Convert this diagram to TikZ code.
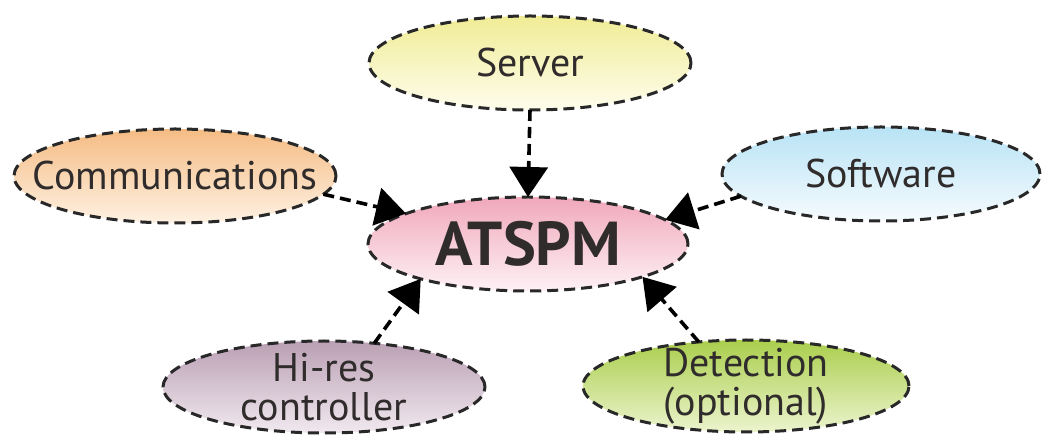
\documentclass[tikz,border=0pt]{standalone}
\usepackage{fontspec}
\setmainfont{PT Sans}
\usetikzlibrary{shapes.geometric,arrows.meta}

\definecolor{ink}{RGB}{48,44,44}
\definecolor{rim}{RGB}{40,40,40}
\definecolor{serverTop}{RGB}{240,236,150}
\definecolor{serverBot}{RGB}{254,253,236}
\definecolor{commTop}{RGB}{245,188,132}
\definecolor{commBot}{RGB}{254,241,226}
\definecolor{softTop}{RGB}{184,227,245}
\definecolor{softBot}{RGB}{246,251,254}
\definecolor{coreTop}{RGB}{240,168,188}
\definecolor{coreBot}{RGB}{254,241,245}
\definecolor{hiresTop}{RGB}{186,160,180}
\definecolor{hiresBot}{RGB}{241,233,239}
\definecolor{detTop}{RGB}{170,206,76}
\definecolor{detBot}{RGB}{236,244,206}

\tikzset{
  % negative inner sep keeps the ellipse at its minimum size
  bubble/.style={ellipse, draw=rim, line width=3pt,
    dash pattern=on 11pt off 6pt, inner sep=-30pt, outer sep=0pt,
    minimum width=322pt, minimum height=94pt,
    shading=axis, shading angle=0, text=ink, align=center,
    font=\fontsize{40}{39}\selectfont},
  feed/.style={draw=black, line width=3.6pt, dash pattern=on 11pt off 6pt,
    -{Triangle[length=30pt,width=38pt]}}
}

\begin{document}
\begin{tikzpicture}[x=1pt,y=-1pt]
  \useasboundingbox (0,0) rectangle (1042,435);

  % outer ring of contributing parts
  \node[bubble, top color=serverTop, bottom color=serverBot] (server) at (530,63) {Server};
  \node[bubble, top color=commTop, bottom color=commBot] (comm) at (175,176) {Communications};
  \node[bubble, top color=softTop, bottom color=softBot, minimum width=318pt] (soft) at (881,174) {Software};
  \node[bubble, top color=hiresTop, bottom color=hiresBot, minimum height=92pt] (hires) at (324,387) {Hi-res\\controller};
  \node[bubble, top color=detTop, bottom color=detBot, minimum height=92pt, minimum width=326pt] (det) at (746,386) {Detection\\(optional)};

  % central system
  \node[bubble, top color=coreTop, bottom color=coreBot, minimum width=320pt,
        font=\fontsize{62}{64}\selectfont\bfseries] (core) at (528,244) {ATSPM};

  % connectors into the centre
  \draw[feed] (server.south) -- (core.north);
  \draw[feed] (comm.-7) -- (core.166);
  \draw[feed] (soft.-171) -- (core.10);
  \draw[feed] (hires.41) -- (core.-162);
  \draw[feed] (det.137) -- (core.-16);
\end{tikzpicture}
\end{document}
